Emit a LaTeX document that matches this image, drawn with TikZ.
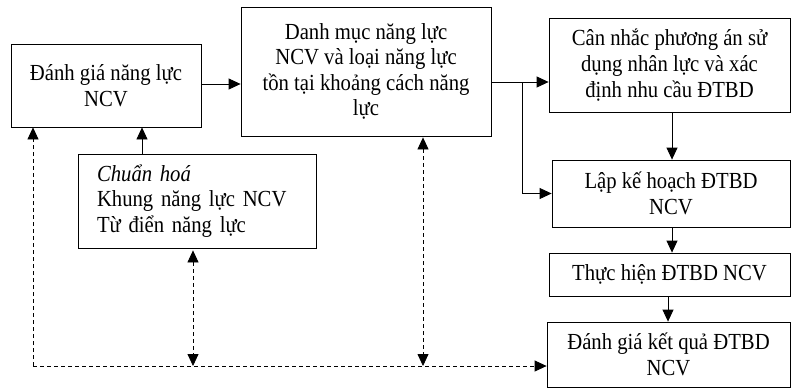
\documentclass[tikz,border=0pt]{standalone}
\usepackage{fontspec}
\setmainfont{Liberation Serif}[FakeStretch=0.9]
\usetikzlibrary{arrows.meta,calc}
\begin{document}
\begin{tikzpicture}[x=1pt,y=-1pt,
  box/.style={draw,line width=0.8pt,inner sep=0pt,align=center,
    font=\fontsize{23}{26}\selectfont},
  arr/.style={line width=0.8pt,-{Triangle[length=12pt,width=11pt]}},
  darr/.style={line width=0.8pt,dash pattern=on 4pt off 3pt,-{Triangle[length=12pt,width=11pt]}},
  ddarr/.style={line width=0.8pt,dash pattern=on 4pt off 3pt,{Triangle[length=12pt,width=11pt]}-{Triangle[length=12pt,width=11pt]}}]
\useasboundingbox (0,0) rectangle (791,388);
\node[box,minimum width=190pt,minimum height=83pt] (b1) at (106,85.5) {Đánh giá năng lực\\NCV};
\node[box,minimum width=250pt,minimum height=129pt,font=\fontsize{23}{25.5}\selectfont] (b2) at (366,71.5) {Danh mục năng lực\\NCV và loại năng lực\\tồn tại khoảng cách năng\\lực};
\node[box,minimum width=238pt,minimum height=94pt,align=left,text width=200pt,font=\fontsize{23}{25.5}\selectfont] (b3) at (197,201) {\textit{Chuẩn hoá}\\Khung năng lực NCV\\Từ điển năng lực};
\node[box,minimum width=241pt,minimum height=94pt] (b4) at (669.5,65) {Cân nhắc phương án sử\\dụng nhân lực và xác\\định nhu cầu ĐTBD};
\node[box,minimum width=238pt,minimum height=67pt] (b5) at (671,193.5) {Lập kế hoạch ĐTBD\\NCV};
\node[box,minimum width=241pt,minimum height=43pt] (b6) at (669.5,274.5) {Thực hiện ĐTBD NCV};
\node[box,minimum width=243pt,minimum height=65pt] (b7) at (668.5,354.5) {Đánh giá kết quả ĐTBD\\NCV};
% solid connectors
\draw[arr] ([yshift=1.5pt]b1.east) -- ([yshift=1.5pt]b1.east -| b2.west);
\draw[arr] ([xshift=-55pt]b3.north) -- ([xshift=-55pt]b3.north |- b1.south);
\coordinate (j) at (522,82);
\draw[arr] ([yshift=-10.5pt]b2.east) -- ([yshift=-10.5pt]b2.east -| b4.west);
\draw[arr] (j) |- (b5.west);
\draw[arr] ([xshift=2.5pt]b4.south) -- ([xshift=2.5pt]b4.south |- b5.north);
\draw[arr] ([xshift=1pt]b5.south) -- ([xshift=1pt]b5.south |- b6.north);
\draw[arr] ([xshift=-1.5pt]b6.south) -- ([xshift=-1.5pt]b6.south |- b7.north);
% dashed connectors
\coordinate (c1) at (33,366);
\coordinate (c2) at (193,366);
\coordinate (c3) at (423,366);
\draw[darr] (c1) -- (c1 |- b1.south);
\draw[darr] (c1) -- (c1 -| b7.west);
\draw[ddarr] ([yshift=-2pt]c2 |- b3.south) -- (c2);
\draw[ddarr] ([yshift=-1pt]c3 |- b2.south) -- (c3);
\end{tikzpicture}
\end{document}
